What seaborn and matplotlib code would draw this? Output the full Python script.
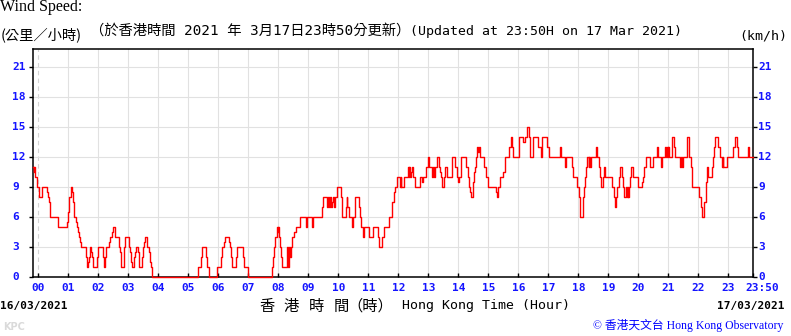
import matplotlib
matplotlib.use("Agg")
import matplotlib.pyplot as plt
from matplotlib.transforms import ScaledTranslation
import pandas as pd
import seaborn as sns

# ---------------- data ----------------
# minute (from 00:00) at which the 10-min mean wind speed changes, and the new value (km/h)
change_minute = [
    -10, -9, -8, -7, -2, 2, 8, 17, 19, 21, 23, 24, 40, 57, 59, 60, 61, 65, 67, 69,
    71, 76, 78, 80, 82, 84, 86, 96, 98, 100, 102, 103, 106, 108, 110, 118, 120, 130,
    132, 134, 136, 142, 144, 148, 150, 154, 162, 164, 166, 172, 174, 182, 184, 186,
    188, 192, 194, 196, 200, 202, 208, 210, 212, 214, 218, 222, 224, 226, 228,
    320, 325, 327, 335, 338, 341, 358, 366, 368, 372, 374, 382, 384, 386, 388, 395,
    398, 410, 412, 419, 468, 470, 472, 474, 477, 479, 480, 482, 483, 485, 488, 498,
    500, 502, 503, 505, 508, 511, 516, 523, 535, 537, 548, 550, 568, 570, 578, 580,
    581, 583, 585, 587, 589, 591, 593, 598, 605, 607, 608, 615, 617, 618, 621, 627,
    630, 634, 642, 643, 646, 650, 651, 661, 670, 679, 681, 688, 691, 701, 708, 711,
    713, 717, 723, 725, 726, 732, 739, 741, 742, 743, 745, 747, 750, 753, 764, 767,
    769, 775, 780, 781, 788, 790, 791, 793, 798, 801, 803, 805, 808, 812, 814, 818,
    827, 834, 837, 840, 842, 845, 856, 859, 861, 863, 865, 869, 870, 872, 874, 875,
    878, 879, 881, 883, 892, 895, 900, 915, 918, 919, 923, 930, 933, 941, 945, 947,
    949, 950, 961, 970, 973, 977, 981, 983, 990, 1000, 1005, 1007, 1017, 1022, 1043,
    1045, 1053, 1055, 1067, 1069, 1078, 1081, 1084, 1089, 1091, 1093, 1095, 1098,
    1101, 1102, 1104, 1105, 1115, 1118, 1121, 1123, 1125, 1130, 1132, 1134, 1148,
    1151, 1154, 1155, 1158, 1161, 1163, 1167, 1169, 1172, 1175, 1177, 1179, 1180,
    1181, 1183, 1186, 1189, 1199, 1207, 1209, 1211, 1215, 1223, 1230, 1237, 1240,
    1245, 1248, 1254, 1256, 1257, 1259, 1260, 1261, 1267, 1271, 1274, 1283, 1285,
    1287, 1289, 1297, 1302, 1305, 1308, 1321, 1325, 1328, 1331, 1335, 1338, 1340,
    1348, 1350, 1352, 1354, 1360, 1363, 1367, 1369, 1370, 1377, 1390, 1394, 1397,
    1400, 1420, 1421,
]
speed_kmh = [
    11, 10.5, 11, 10, 9, 8, 9, 8.5, 8, 7.5, 6.5, 6, 5, 5.5, 6, 6.5, 8, 9, 8.5, 7.5,
    6, 5.5, 5, 4.5, 4, 3.5, 3, 2, 1, 1.5, 2, 3, 2.5, 2, 1, 2, 3, 2,
    1, 2, 3, 3.5, 4, 4.5, 5, 4, 3, 2.5, 1, 3, 4, 3, 2.5, 1.5,
    1, 2, 2.5, 3, 2.5, 1, 2, 3, 3.5, 4, 3, 2.5, 1.5, 1, 0,
    1, 2, 3, 2, 1, 0, 1, 2, 3, 3.5, 4, 3.5, 3, 2, 1, 2,
    3, 2, 1, 0, 1, 2, 3, 4, 5, 4.5, 5, 4, 3, 2, 1, 3,
    1, 3, 2, 3, 4, 4.5, 5, 6, 5, 6, 5, 6, 7, 8, 7, 8,
    7, 8, 7, 7.5, 8, 7, 8, 9, 8, 7, 6, 7, 8, 7, 6, 5,
    6, 8, 7, 6, 5, 4, 5, 4, 5, 4, 3, 4, 5, 6, 7.5, 8.5,
    9, 10, 9, 10, 9, 10, 11, 10, 11, 10, 10.5, 11, 10, 9, 10, 9.5,
    10, 11, 12, 11, 10, 11, 10, 11, 12, 11, 10.5, 10, 9, 10, 11, 10,
    12, 11, 10, 9.5, 10, 12, 11, 10, 9, 8.5, 8, 8.5, 9.5, 10.5, 11, 12,
    13, 12.5, 13, 12, 11, 10, 9, 8.5, 8, 9, 10, 10.5, 12, 13, 14, 13,
    12.5, 12, 14, 13.5, 14, 15, 14, 12, 14, 13, 12, 14, 13, 12, 13,
    12, 11, 12, 11, 10, 9, 8, 6, 8, 9, 10, 11, 12,
    11, 12, 11, 12, 13, 12, 11, 10, 9, 10, 11, 10, 9,
    8, 7, 8, 9, 10, 11, 10, 9, 8, 9, 8, 9, 8,
    9, 10, 11, 10, 9, 9.5, 10, 11, 12, 11, 12, 13, 12,
    11, 12, 13, 12, 13, 12, 13, 12, 14, 13, 12, 11, 12,
    11, 12, 14, 12, 11, 9, 8, 7, 6, 7.5, 9.5, 11, 10,
    11, 12, 13, 14, 13, 12, 11, 12, 11, 12, 13, 14, 13,
    12, 13, 12,
]
end_minute = 1430
hour_labels = ["%02d" % h for h in range(24)]
end_label = "23:50"
y_ticks = [0, 3, 6, 9, 12, 15, 18, 21]

# ---------------- figure ----------------
W, H = 791, 336
fig = plt.figure(figsize=(W / 100, H / 100), dpi=100)
fig.patch.set_facecolor("white")

def fx(x):
    return x / W

def fy(y):
    return 1 - y / H

ax_left, ax_right, ax_top, ax_bottom = 33.3, 753.3, 49.0, 276.5
ax = fig.add_axes([fx(ax_left), fy(ax_bottom), (ax_right - ax_left) / W,
                   (ax_bottom - ax_top) / H])
ax.set_facecolor("white")

df = pd.DataFrame({
    "minute": change_minute + [end_minute],
    "speed": speed_kmh + [speed_kmh[-1]],
})
sns.lineplot(data=df, x="minute", y="speed", drawstyle="steps-post",
             color="#ff0000", linewidth=1.0, ax=ax, zorder=3, clip_on=False,
             estimator=None)

ax.set_xlim(-10, end_minute)
ax.set_ylim(0, 22.75)
ax.set_xlabel("")
ax.set_ylabel("")

tick_blue = "#1414ff"
mono = "DejaVu Sans Mono"

# x ticks
xt = list(range(0, 24 * 60, 60)) + [end_minute]
ax.set_xticks(xt)
ax.set_xticklabels(hour_labels + [end_label])
ax.tick_params(axis="x", direction="in", length=3, width=1.0, pad=5,
               labelcolor=tick_blue, color="black")
for lbl in ax.get_xticklabels():
    lbl.set_fontfamily(mono)
    lbl.set_fontweight("bold")
    lbl.set_fontsize(8)
last = ax.get_xticklabels()[-1]
last.set_transform(last.get_transform() + ScaledTranslation(9 / 100, 0, fig.dpi_scale_trans))

# y ticks (labels on the right via ticks, on the left left-aligned text)
ax.set_yticks(y_ticks)
ax.tick_params(axis="y", which="major", left=True, right=True, labelleft=False,
               labelright=True, direction="out", length=3, width=1.0, pad=0.5,
               labelcolor=tick_blue, color="black")
for lbl in ax.get_yticklabels(which="both"):
    lbl.set_fontfamily(mono)
    lbl.set_fontweight("bold")
    lbl.set_fontsize(8)
ytrans = ax.get_yaxis_transform()
for v in y_ticks:
    ax.text((12 - ax_left) / (ax_right - ax_left), v, str(v), transform=ytrans,
            ha="left", va="center", family=mono, fontweight="bold", fontsize=8,
            color=tick_blue)

# grid
ax.grid(True, color="#e1e1e1", linewidth=0.8, zorder=0)
ax.set_axisbelow(True)
gl = ax.xaxis.get_gridlines()
gl[0].set_linestyle((0, (4, 3)))
gl[0].set_color("#d4d4d4")

for s in ax.spines.values():
    s.set_visible(True)
    s.set_color("black")
    s.set_linewidth(1.1)

# ---------------- texts ----------------
cjk = ["DejaVu Sans Mono", "Noto Sans CJK TC"]
fig.text(fx(0), fy(7), "Wind Speed:", ha="left", va="center",
         family="Liberation Serif", fontsize=11.5, color="black")
fig.text(fx(1), fy(35), "(公里／小時)", ha="left", va="center",
         family=["Noto Sans CJK TC"], fontsize=10.3, color="black")
fig.text(fx(90), fy(31), "（於香港時間 2021 年 3月17日23時50分更新）",
         ha="left", va="center", family=cjk, fontsize=10.3, color="black")
fig.text(fx(410), fy(31), "(Updated at 23:50H on 17 Mar 2021)",
         ha="left", va="center", family=mono, fontsize=9.5, color="black")
fig.text(fx(787), fy(36), "(km/h)", ha="right", va="center",
         family=mono, fontsize=9.5, color="black")

fig.text(fx(0), fy(306), "16/03/2021", ha="left", va="center", family=mono,
         fontweight="bold", fontsize=8, color="black")
fig.text(fx(784), fy(306), "17/03/2021", ha="right", va="center", family=mono,
         fontweight="bold", fontsize=8, color="black")
for ch, cx in zip(["香", "港", "時", "間", "（時）"], [267, 291, 316, 341, 370]):
    fig.text(fx(cx), fy(306), ch, ha="center", va="center",
             family=["Noto Sans CJK TC"], fontsize=11, color="black")
fig.text(fx(402), fy(306), "Hong Kong Time (Hour)", ha="left", va="center",
         family=mono, fontsize=9.5, color="black")

fig.text(fx(3), fy(327), "KPC", ha="left", va="center", family="DejaVu Sans",
         fontweight="bold", fontsize=7, color="#dadada")
fig.text(fx(783), fy(325), "© 香港天文台 Hong Kong Observatory", ha="right",
         va="center", family=["Liberation Serif", "Noto Sans CJK TC"],
         fontsize=8.5, color="#0000ff")

fig.savefig("out.png", dpi=100, facecolor="white")
